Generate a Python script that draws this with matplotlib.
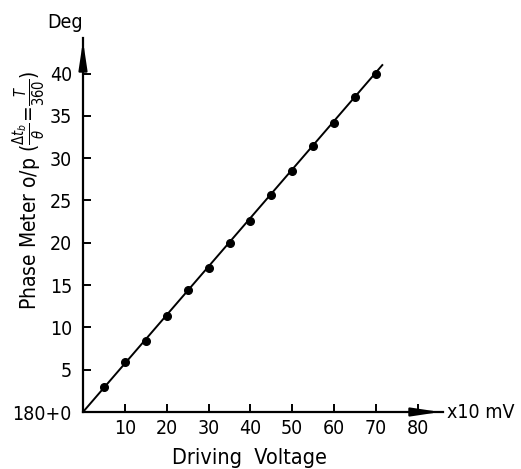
from matplotlib import pyplot as plt
import numpy as np

# driving voltage (x10 mV) and phase meter reading (deg)
voltage = [5, 10, 15, 20, 25, 30, 35, 40, 45, 50, 55, 60, 65, 70]
phase = [3.0, 5.9, 8.4, 11.4, 14.4, 17.0, 20.0, 22.6, 25.7, 28.5, 31.4, 34.2, 37.2, 39.9]

# drawn straight line through the points
fit_x = [0, 71.5]
fit_y = [0, 41.0]

x_ticks = [10, 20, 30, 40, 50, 60, 70, 80]
y_ticks = [0, 5, 10, 15, 20, 25, 30, 35, 40]
y_tick_labels = ["180+0", "5", "10", "15", "20", "25", "30", "35", "40"]

plt.rc('font', family='DejaVu Sans', size=14, stretch='condensed')
plt.rc('mathtext', fontset='dejavusans')

W, H = 521, 469
fig = plt.figure(figsize=[W / 100, H / 100], dpi=100)
ax = fig.add_axes([83 / W, 57 / H, 360 / W, 374 / H])
ax.set_xlim(0, 86)
ax.set_ylim(0, 44.2)

ax.plot(fit_x, fit_y, '-', color='k', lw=1.4)
ax.plot(voltage, phase, 'o', color='k', ms=5.5)

for side in ['top', 'right']:
  ax.spines[side].set_visible(False)
for side in ['left', 'bottom']:
  ax.spines[side].set_linewidth(1.6)

ax.annotate('', xy=(86, 0), xytext=(81, 0), annotation_clip=False,
            arrowprops=dict(arrowstyle='-|>,head_length=1.2,head_width=0.18', color='k', lw=1.6))
ax.annotate('', xy=(0, 44.2), xytext=(0, 41.0), annotation_clip=False,
            arrowprops=dict(arrowstyle='-|>,head_length=1.2,head_width=0.18', color='k', lw=1.6))

ax.set_xticks(x_ticks)
ax.set_yticks(y_ticks)
ax.set_yticklabels(y_tick_labels)
ax.tick_params(direction='in', length=6, width=1.4, pad=5)
ax.tick_params(axis='y', pad=8)

fig.text(249 / W, 1 - 458 / H, "Driving  Voltage", ha='center', va='center', fontsize=15.5)
fig.text(29 / W, 1 - 190 / H, r"Phase Meter o/p ($\frac{\Delta t_b}{\theta}$=$\frac{T}{360}$)",
         rotation=90, ha='center', va='center', fontsize=15)
fig.text(65 / W, 1 - 22 / H, "Deg", ha='center', va='center')
fig.text(447 / W, 1 - 412 / H, "x10 mV", ha='left', va='center')

plt.savefig("out.png", dpi=100)
